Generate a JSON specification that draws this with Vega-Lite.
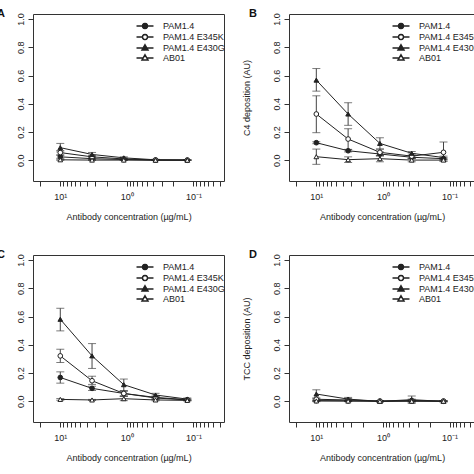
{
  "$schema": "https://vega.github.io/schema/vega-lite/v6.json",
  "padding": {"left": -4, "top": 7, "right": 0, "bottom": 0},
  "datasets": {
    "d": [
      {"panel": "A", "s": "PAM1.4", "x": 10, "y": 0.025, "lo": 0.015, "hi": 0.035},
      {"panel": "A", "s": "PAM1.4", "x": 3.333, "y": 0.012, "lo": 0.005, "hi": 0.02},
      {"panel": "A", "s": "PAM1.4", "x": 1.111, "y": 0.006, "lo": 0.002, "hi": 0.01},
      {"panel": "A", "s": "PAM1.4", "x": 0.3704, "y": 0.002, "lo": 0, "hi": 0.004},
      {"panel": "A", "s": "PAM1.4", "x": 0.1235, "y": 0.001, "lo": 0, "hi": 0.003},
      {"panel": "A", "s": "PAM1.4 E345K", "x": 10, "y": 0.055, "lo": 0.04, "hi": 0.07},
      {"panel": "A", "s": "PAM1.4 E345K", "x": 3.333, "y": 0.025, "lo": 0.015, "hi": 0.035},
      {"panel": "A", "s": "PAM1.4 E345K", "x": 1.111, "y": 0.01, "lo": 0.005, "hi": 0.015},
      {"panel": "A", "s": "PAM1.4 E345K", "x": 0.3704, "y": 0.003, "lo": 0, "hi": 0.006},
      {"panel": "A", "s": "PAM1.4 E345K", "x": 0.1235, "y": 0.002, "lo": 0, "hi": 0.004},
      {"panel": "A", "s": "PAM1.4 E430G", "x": 10, "y": 0.09, "lo": 0.06, "hi": 0.12},
      {"panel": "A", "s": "PAM1.4 E430G", "x": 3.333, "y": 0.042, "lo": 0.028, "hi": 0.056},
      {"panel": "A", "s": "PAM1.4 E430G", "x": 1.111, "y": 0.018, "lo": 0.01, "hi": 0.025},
      {"panel": "A", "s": "PAM1.4 E430G", "x": 0.3704, "y": 0.004, "lo": 0, "hi": 0.008},
      {"panel": "A", "s": "PAM1.4 E430G", "x": 0.1235, "y": 0.003, "lo": 0, "hi": 0.006},
      {"panel": "A", "s": "AB01", "x": 10, "y": 0.004, "lo": 0, "hi": 0.008},
      {"panel": "A", "s": "AB01", "x": 3.333, "y": 0.002, "lo": 0, "hi": 0.004},
      {"panel": "A", "s": "AB01", "x": 1.111, "y": 0.002, "lo": 0, "hi": 0.004},
      {"panel": "A", "s": "AB01", "x": 0.3704, "y": 0.001, "lo": 0, "hi": 0.003},
      {"panel": "A", "s": "AB01", "x": 0.1235, "y": 0.001, "lo": 0, "hi": 0.002},

      {"panel": "B", "s": "PAM1.4", "x": 10, "y": 0.125, "lo": 0.118, "hi": 0.132},
      {"panel": "B", "s": "PAM1.4", "x": 3.333, "y": 0.068, "lo": 0.06, "hi": 0.076},
      {"panel": "B", "s": "PAM1.4", "x": 1.111, "y": 0.045, "lo": 0.03, "hi": 0.06},
      {"panel": "B", "s": "PAM1.4", "x": 0.3704, "y": 0.022, "lo": 0.012, "hi": 0.032},
      {"panel": "B", "s": "PAM1.4", "x": 0.1235, "y": 0.012, "lo": 0.005, "hi": 0.02},
      {"panel": "B", "s": "PAM1.4 E345K", "x": 10, "y": 0.328, "lo": 0.196, "hi": 0.457},
      {"panel": "B", "s": "PAM1.4 E345K", "x": 3.333, "y": 0.151, "lo": 0.078, "hi": 0.224},
      {"panel": "B", "s": "PAM1.4 E345K", "x": 1.111, "y": 0.057, "lo": 0.035, "hi": 0.08},
      {"panel": "B", "s": "PAM1.4 E345K", "x": 0.3704, "y": 0.03, "lo": 0.015, "hi": 0.045},
      {"panel": "B", "s": "PAM1.4 E345K", "x": 0.1235, "y": 0.057, "lo": -0.005, "hi": 0.13},
      {"panel": "B", "s": "PAM1.4 E430G", "x": 10, "y": 0.568, "lo": 0.49, "hi": 0.65},
      {"panel": "B", "s": "PAM1.4 E430G", "x": 3.333, "y": 0.328, "lo": 0.248, "hi": 0.408},
      {"panel": "B", "s": "PAM1.4 E430G", "x": 1.111, "y": 0.12, "lo": 0.08, "hi": 0.16},
      {"panel": "B", "s": "PAM1.4 E430G", "x": 0.3704, "y": 0.05, "lo": 0.035, "hi": 0.063},
      {"panel": "B", "s": "PAM1.4 E430G", "x": 0.1235, "y": 0.02, "lo": 0.01, "hi": 0.03},
      {"panel": "B", "s": "AB01", "x": 10, "y": 0.026, "lo": -0.028, "hi": 0.08},
      {"panel": "B", "s": "AB01", "x": 3.333, "y": 0.005, "lo": -0.015, "hi": 0.025},
      {"panel": "B", "s": "AB01", "x": 1.111, "y": 0.012, "lo": -0.01, "hi": 0.035},
      {"panel": "B", "s": "AB01", "x": 0.3704, "y": 0.002, "lo": -0.01, "hi": 0.014},
      {"panel": "B", "s": "AB01", "x": 0.1235, "y": 0.002, "lo": -0.006, "hi": 0.01},

      {"panel": "C", "s": "PAM1.4", "x": 10, "y": 0.169, "lo": 0.129, "hi": 0.209},
      {"panel": "C", "s": "PAM1.4", "x": 3.333, "y": 0.092, "lo": 0.077, "hi": 0.107},
      {"panel": "C", "s": "PAM1.4", "x": 1.111, "y": 0.056, "lo": 0.04, "hi": 0.072},
      {"panel": "C", "s": "PAM1.4", "x": 0.3704, "y": 0.024, "lo": 0.016, "hi": 0.032},
      {"panel": "C", "s": "PAM1.4", "x": 0.1235, "y": 0.01, "lo": 0.005, "hi": 0.015},
      {"panel": "C", "s": "PAM1.4 E345K", "x": 10, "y": 0.322, "lo": 0.275, "hi": 0.369},
      {"panel": "C", "s": "PAM1.4 E345K", "x": 3.333, "y": 0.146, "lo": 0.12, "hi": 0.178},
      {"panel": "C", "s": "PAM1.4 E345K", "x": 1.111, "y": 0.056, "lo": 0.035, "hi": 0.075},
      {"panel": "C", "s": "PAM1.4 E345K", "x": 0.3704, "y": 0.028, "lo": 0.018, "hi": 0.038},
      {"panel": "C", "s": "PAM1.4 E345K", "x": 0.1235, "y": 0.012, "lo": 0.006, "hi": 0.018},
      {"panel": "C", "s": "PAM1.4 E430G", "x": 10, "y": 0.581, "lo": 0.499, "hi": 0.659},
      {"panel": "C", "s": "PAM1.4 E430G", "x": 3.333, "y": 0.322, "lo": 0.233, "hi": 0.409},
      {"panel": "C", "s": "PAM1.4 E430G", "x": 1.111, "y": 0.118, "lo": 0.075, "hi": 0.158},
      {"panel": "C", "s": "PAM1.4 E430G", "x": 0.3704, "y": 0.045, "lo": 0.033, "hi": 0.057},
      {"panel": "C", "s": "PAM1.4 E430G", "x": 0.1235, "y": 0.016, "lo": 0.008, "hi": 0.024},
      {"panel": "C", "s": "AB01", "x": 10, "y": 0.014, "lo": 0.008, "hi": 0.02},
      {"panel": "C", "s": "AB01", "x": 3.333, "y": 0.01, "lo": 0.006, "hi": 0.014},
      {"panel": "C", "s": "AB01", "x": 1.111, "y": 0.019, "lo": 0.005, "hi": 0.035},
      {"panel": "C", "s": "AB01", "x": 0.3704, "y": 0.01, "lo": 0.004, "hi": 0.016},
      {"panel": "C", "s": "AB01", "x": 0.1235, "y": 0.007, "lo": 0.003, "hi": 0.011},

      {"panel": "D", "s": "PAM1.4", "x": 10, "y": 0.005, "lo": 0, "hi": 0.01},
      {"panel": "D", "s": "PAM1.4", "x": 3.333, "y": 0.004, "lo": 0, "hi": 0.008},
      {"panel": "D", "s": "PAM1.4", "x": 1.111, "y": 0.001, "lo": -0.002, "hi": 0.004},
      {"panel": "D", "s": "PAM1.4", "x": 0.3704, "y": 0.003, "lo": -0.003, "hi": 0.009},
      {"panel": "D", "s": "PAM1.4", "x": 0.1235, "y": 0.001, "lo": -0.002, "hi": 0.004},
      {"panel": "D", "s": "PAM1.4 E345K", "x": 10, "y": 0.015, "lo": 0.005, "hi": 0.025},
      {"panel": "D", "s": "PAM1.4 E345K", "x": 3.333, "y": 0.01, "lo": 0, "hi": 0.02},
      {"panel": "D", "s": "PAM1.4 E345K", "x": 1.111, "y": 0.002, "lo": -0.002, "hi": 0.006},
      {"panel": "D", "s": "PAM1.4 E345K", "x": 0.3704, "y": 0.006, "lo": -0.004, "hi": 0.016},
      {"panel": "D", "s": "PAM1.4 E345K", "x": 0.1235, "y": 0.002, "lo": -0.002, "hi": 0.006},
      {"panel": "D", "s": "PAM1.4 E430G", "x": 10, "y": 0.052, "lo": 0.02, "hi": 0.082},
      {"panel": "D", "s": "PAM1.4 E430G", "x": 3.333, "y": 0.016, "lo": 0.004, "hi": 0.028},
      {"panel": "D", "s": "PAM1.4 E430G", "x": 1.111, "y": 0.0, "lo": -0.004, "hi": 0.004},
      {"panel": "D", "s": "PAM1.4 E430G", "x": 0.3704, "y": 0.012, "lo": -0.014, "hi": 0.038},
      {"panel": "D", "s": "PAM1.4 E430G", "x": 0.1235, "y": 0.0, "lo": -0.003, "hi": 0.003},
      {"panel": "D", "s": "AB01", "x": 10, "y": 0.003, "lo": -0.002, "hi": 0.008},
      {"panel": "D", "s": "AB01", "x": 3.333, "y": 0.002, "lo": -0.002, "hi": 0.006},
      {"panel": "D", "s": "AB01", "x": 1.111, "y": 0.001, "lo": -0.002, "hi": 0.004},
      {"panel": "D", "s": "AB01", "x": 0.3704, "y": 0.001, "lo": -0.003, "hi": 0.005},
      {"panel": "D", "s": "AB01", "x": 0.1235, "y": 0.001, "lo": -0.002, "hi": 0.004}
    ]
  },
  "data": {"name": "d"},
  "spacing": 26,
  "vconcat": [
    {
      "spacing": 15,
      "hconcat": [
        {
          "width": 191,
          "height": 167,
          "title": {"text": "A", "dx": -36},
          "transform": [{"filter": "datum.panel == 'A'"}],
          "encoding": {
            "x": {"field": "x", "type": "quantitative",
              "scale": {"type": "log", "domain": [0.0347, 25.7], "reverse": true, "nice": false, "zero": false},
              "axis": {"title": "Antibody concentration (µg/mL)", "values": [20, 10, 9, 8, 7, 6, 5, 4, 3, 2, 1, 0.9, 0.8, 0.7, 0.6, 0.5, 0.4, 0.3, 0.2, 0.1, 0.09, 0.08, 0.07, 0.06, 0.05, 0.04], "labelOverlap": false,
                "labelExpr": "datum.value == 10 ? '10¹' : datum.value == 1 ? '10⁰' : datum.value == 0.1 ? '10⁻¹' : ''"}}
          },
          "layer": [
            {"mark": {"type": "rule", "color": "#444"},
             "encoding": {"y": {"field": "lo", "type": "quantitative", "scale": {"domain": [-0.146, 1.036], "nice": false, "zero": false}, "axis": {"title": null, "values": [0, 0.2, 0.4, 0.6, 0.8, 1], "format": ".1f", "labelOverlap": false}}, "y2": {"field": "hi"}}},
            {"mark": {"type": "tick", "orient": "horizontal", "size": 8, "thickness": 1, "color": "#444"},
             "encoding": {"y": {"field": "lo", "type": "quantitative", "scale": {"domain": [-0.146, 1.036], "nice": false, "zero": false}, "axis": {"title": null, "values": [0, 0.2, 0.4, 0.6, 0.8, 1], "format": ".1f", "labelOverlap": false}}}},
            {"mark": {"type": "tick", "orient": "horizontal", "size": 8, "thickness": 1, "color": "#444"},
             "encoding": {"y": {"field": "hi", "type": "quantitative", "scale": {"domain": [-0.146, 1.036], "nice": false, "zero": false}, "axis": {"title": null, "values": [0, 0.2, 0.4, 0.6, 0.8, 1], "format": ".1f", "labelOverlap": false}}}},
            {"mark": {"type": "line", "color": "#222", "strokeWidth": 1},
             "encoding": {"y": {"field": "y", "type": "quantitative", "scale": {"domain": [-0.146, 1.036], "nice": false, "zero": false}, "axis": {"title": null, "values": [0, 0.2, 0.4, 0.6, 0.8, 1], "format": ".1f", "labelOverlap": false}}, "detail": {"field": "s"}}},
            {"mark": {"type": "point", "filled": true, "stroke": "#222", "strokeWidth": 1, "size": 22, "opacity": 1},
             "encoding": {"y": {"field": "y", "type": "quantitative", "scale": {"domain": [-0.146, 1.036], "nice": false, "zero": false}, "axis": {"title": null, "values": [0, 0.2, 0.4, 0.6, 0.8, 1], "format": ".1f", "labelOverlap": false}},
               "shape": {"field": "s", "scale": {"domain": ["PAM1.4", "PAM1.4 E345K", "PAM1.4 E430G", "AB01"], "range": ["circle", "circle", "triangle-up", "triangle-up"]}, "legend": null},
               "fill": {"field": "s", "scale": {"domain": ["PAM1.4", "PAM1.4 E345K", "PAM1.4 E430G", "AB01"], "range": ["#222", "#ffffff", "#222", "#ffffff"]}, "legend": null}}},
            {"transform": [{"filter": "false"}],
             "mark": {"type": "point", "filled": true, "stroke": "#222", "strokeWidth": 1, "size": 72, "opacity": 1},
             "encoding": {
               "shape": {"field": "s", "scale": {"domain": ["PAM1.4", "PAM1.4 E345K", "PAM1.4 E430G", "AB01"], "range": ["M-2,0H-0.6M0.6,0H2M0.6,0L0.52,0.3L0.3,0.52L0,0.6L-0.3,0.52L-0.52,0.3L-0.6,0L-0.52,-0.3L-0.3,-0.52L0,-0.6L0.3,-0.52L0.52,-0.3Z", "M-2,0H-0.6M0.6,0H2M0.6,0L0.52,0.3L0.3,0.52L0,0.6L-0.3,0.52L-0.52,0.3L-0.6,0L-0.52,-0.3L-0.3,-0.52L0,-0.6L0.3,-0.52L0.52,-0.3Z", "M-2,0H-0.45M0.45,0H2M0,-0.75L0.7,0.45L-0.7,0.45Z", "M-2,0H-0.45M0.45,0H2M0,-0.75L0.7,0.45L-0.7,0.45Z"]},
                 "legend": {"encode": {"symbols": {"stroke": {"value": "#222"}, "strokeWidth": {"value": 1}}}}},
               "fill": {"field": "s", "scale": {"domain": ["PAM1.4", "PAM1.4 E345K", "PAM1.4 E430G", "AB01"], "range": ["#222", "#ffffff", "#222", "#ffffff"]},
                 "legend": {"encode": {"symbols": {"stroke": {"value": "#222"}, "strokeWidth": {"value": 1}}}}}}}
          ],
          "resolve": {"scale": {"shape": "independent", "fill": "independent"}}
        },
        {
          "width": 186,
          "height": 167,
          "title": {"text": "B", "dx": -40},
          "transform": [{"filter": "datum.panel == 'B'"}],
          "encoding": {
            "x": {"field": "x", "type": "quantitative",
              "scale": {"type": "log", "domain": [0.0416, 25.7], "reverse": true, "nice": false, "zero": false},
              "axis": {"title": "Antibody concentration (µg/mL)", "values": [20, 10, 9, 8, 7, 6, 5, 4, 3, 2, 1, 0.9, 0.8, 0.7, 0.6, 0.5, 0.4, 0.3, 0.2, 0.1, 0.09, 0.08, 0.07, 0.06, 0.05], "labelOverlap": false,
                "labelExpr": "datum.value == 10 ? '10¹' : datum.value == 1 ? '10⁰' : datum.value == 0.1 ? '10⁻¹' : ''"}}
          },
          "layer": [
            {"mark": {"type": "rule", "color": "#444"},
             "encoding": {"y": {"field": "lo", "type": "quantitative", "scale": {"domain": [-0.146, 1.036], "nice": false, "zero": false}, "axis": {"title": "C4 deposition (AU)", "values": [0, 0.2, 0.4, 0.6, 0.8, 1], "format": ".1f", "labelOverlap": false}}, "y2": {"field": "hi"}}},
            {"mark": {"type": "tick", "orient": "horizontal", "size": 8, "thickness": 1, "color": "#444"},
             "encoding": {"y": {"field": "lo", "type": "quantitative", "scale": {"domain": [-0.146, 1.036], "nice": false, "zero": false}, "axis": {"title": "C4 deposition (AU)", "values": [0, 0.2, 0.4, 0.6, 0.8, 1], "format": ".1f", "labelOverlap": false}}}},
            {"mark": {"type": "tick", "orient": "horizontal", "size": 8, "thickness": 1, "color": "#444"},
             "encoding": {"y": {"field": "hi", "type": "quantitative", "scale": {"domain": [-0.146, 1.036], "nice": false, "zero": false}, "axis": {"title": "C4 deposition (AU)", "values": [0, 0.2, 0.4, 0.6, 0.8, 1], "format": ".1f", "labelOverlap": false}}}},
            {"mark": {"type": "line", "color": "#222", "strokeWidth": 1},
             "encoding": {"y": {"field": "y", "type": "quantitative", "scale": {"domain": [-0.146, 1.036], "nice": false, "zero": false}, "axis": {"title": "C4 deposition (AU)", "values": [0, 0.2, 0.4, 0.6, 0.8, 1], "format": ".1f", "labelOverlap": false}}, "detail": {"field": "s"}}},
            {"mark": {"type": "point", "filled": true, "stroke": "#222", "strokeWidth": 1, "size": 22, "opacity": 1},
             "encoding": {"y": {"field": "y", "type": "quantitative", "scale": {"domain": [-0.146, 1.036], "nice": false, "zero": false}, "axis": {"title": "C4 deposition (AU)", "values": [0, 0.2, 0.4, 0.6, 0.8, 1], "format": ".1f", "labelOverlap": false}},
               "shape": {"field": "s", "scale": {"domain": ["PAM1.4", "PAM1.4 E345K", "PAM1.4 E430G", "AB01"], "range": ["circle", "circle", "triangle-up", "triangle-up"]}, "legend": null},
               "fill": {"field": "s", "scale": {"domain": ["PAM1.4", "PAM1.4 E345K", "PAM1.4 E430G", "AB01"], "range": ["#222", "#ffffff", "#222", "#ffffff"]}, "legend": null}}},
            {"transform": [{"filter": "false"}],
             "mark": {"type": "point", "filled": true, "stroke": "#222", "strokeWidth": 1, "size": 72, "opacity": 1},
             "encoding": {
               "shape": {"field": "s", "scale": {"domain": ["PAM1.4", "PAM1.4 E345K", "PAM1.4 E430G", "AB01"], "range": ["M-2,0H-0.6M0.6,0H2M0.6,0L0.52,0.3L0.3,0.52L0,0.6L-0.3,0.52L-0.52,0.3L-0.6,0L-0.52,-0.3L-0.3,-0.52L0,-0.6L0.3,-0.52L0.52,-0.3Z", "M-2,0H-0.6M0.6,0H2M0.6,0L0.52,0.3L0.3,0.52L0,0.6L-0.3,0.52L-0.52,0.3L-0.6,0L-0.52,-0.3L-0.3,-0.52L0,-0.6L0.3,-0.52L0.52,-0.3Z", "M-2,0H-0.45M0.45,0H2M0,-0.75L0.7,0.45L-0.7,0.45Z", "M-2,0H-0.45M0.45,0H2M0,-0.75L0.7,0.45L-0.7,0.45Z"]},
                 "legend": {"encode": {"symbols": {"stroke": {"value": "#222"}, "strokeWidth": {"value": 1}}}}},
               "fill": {"field": "s", "scale": {"domain": ["PAM1.4", "PAM1.4 E345K", "PAM1.4 E430G", "AB01"], "range": ["#222", "#ffffff", "#222", "#ffffff"]},
                 "legend": {"encode": {"symbols": {"stroke": {"value": "#222"}, "strokeWidth": {"value": 1}}}}}}}
          ],
          "resolve": {"scale": {"shape": "independent", "fill": "independent"}}
        }
      ]
    },
    {
      "spacing": 15,
      "hconcat": [
        {
          "width": 191,
          "height": 167,
          "title": {"text": "C", "dx": -36},
          "transform": [{"filter": "datum.panel == 'C'"}],
          "encoding": {
            "x": {"field": "x", "type": "quantitative",
              "scale": {"type": "log", "domain": [0.0347, 25.7], "reverse": true, "nice": false, "zero": false},
              "axis": {"title": "Antibody concentration (µg/mL)", "values": [20, 10, 9, 8, 7, 6, 5, 4, 3, 2, 1, 0.9, 0.8, 0.7, 0.6, 0.5, 0.4, 0.3, 0.2, 0.1, 0.09, 0.08, 0.07, 0.06, 0.05, 0.04], "labelOverlap": false,
                "labelExpr": "datum.value == 10 ? '10¹' : datum.value == 1 ? '10⁰' : datum.value == 0.1 ? '10⁻¹' : ''"}}
          },
          "layer": [
            {"mark": {"type": "rule", "color": "#444"},
             "encoding": {"y": {"field": "lo", "type": "quantitative", "scale": {"domain": [-0.146, 1.036], "nice": false, "zero": false}, "axis": {"title": null, "values": [0, 0.2, 0.4, 0.6, 0.8, 1], "format": ".1f", "labelOverlap": false}}, "y2": {"field": "hi"}}},
            {"mark": {"type": "tick", "orient": "horizontal", "size": 8, "thickness": 1, "color": "#444"},
             "encoding": {"y": {"field": "lo", "type": "quantitative", "scale": {"domain": [-0.146, 1.036], "nice": false, "zero": false}, "axis": {"title": null, "values": [0, 0.2, 0.4, 0.6, 0.8, 1], "format": ".1f", "labelOverlap": false}}}},
            {"mark": {"type": "tick", "orient": "horizontal", "size": 8, "thickness": 1, "color": "#444"},
             "encoding": {"y": {"field": "hi", "type": "quantitative", "scale": {"domain": [-0.146, 1.036], "nice": false, "zero": false}, "axis": {"title": null, "values": [0, 0.2, 0.4, 0.6, 0.8, 1], "format": ".1f", "labelOverlap": false}}}},
            {"mark": {"type": "line", "color": "#222", "strokeWidth": 1},
             "encoding": {"y": {"field": "y", "type": "quantitative", "scale": {"domain": [-0.146, 1.036], "nice": false, "zero": false}, "axis": {"title": null, "values": [0, 0.2, 0.4, 0.6, 0.8, 1], "format": ".1f", "labelOverlap": false}}, "detail": {"field": "s"}}},
            {"mark": {"type": "point", "filled": true, "stroke": "#222", "strokeWidth": 1, "size": 22, "opacity": 1},
             "encoding": {"y": {"field": "y", "type": "quantitative", "scale": {"domain": [-0.146, 1.036], "nice": false, "zero": false}, "axis": {"title": null, "values": [0, 0.2, 0.4, 0.6, 0.8, 1], "format": ".1f", "labelOverlap": false}},
               "shape": {"field": "s", "scale": {"domain": ["PAM1.4", "PAM1.4 E345K", "PAM1.4 E430G", "AB01"], "range": ["circle", "circle", "triangle-up", "triangle-up"]}, "legend": null},
               "fill": {"field": "s", "scale": {"domain": ["PAM1.4", "PAM1.4 E345K", "PAM1.4 E430G", "AB01"], "range": ["#222", "#ffffff", "#222", "#ffffff"]}, "legend": null}}},
            {"transform": [{"filter": "false"}],
             "mark": {"type": "point", "filled": true, "stroke": "#222", "strokeWidth": 1, "size": 72, "opacity": 1},
             "encoding": {
               "shape": {"field": "s", "scale": {"domain": ["PAM1.4", "PAM1.4 E345K", "PAM1.4 E430G", "AB01"], "range": ["M-2,0H-0.6M0.6,0H2M0.6,0L0.52,0.3L0.3,0.52L0,0.6L-0.3,0.52L-0.52,0.3L-0.6,0L-0.52,-0.3L-0.3,-0.52L0,-0.6L0.3,-0.52L0.52,-0.3Z", "M-2,0H-0.6M0.6,0H2M0.6,0L0.52,0.3L0.3,0.52L0,0.6L-0.3,0.52L-0.52,0.3L-0.6,0L-0.52,-0.3L-0.3,-0.52L0,-0.6L0.3,-0.52L0.52,-0.3Z", "M-2,0H-0.45M0.45,0H2M0,-0.75L0.7,0.45L-0.7,0.45Z", "M-2,0H-0.45M0.45,0H2M0,-0.75L0.7,0.45L-0.7,0.45Z"]},
                 "legend": {"encode": {"symbols": {"stroke": {"value": "#222"}, "strokeWidth": {"value": 1}}}}},
               "fill": {"field": "s", "scale": {"domain": ["PAM1.4", "PAM1.4 E345K", "PAM1.4 E430G", "AB01"], "range": ["#222", "#ffffff", "#222", "#ffffff"]},
                 "legend": {"encode": {"symbols": {"stroke": {"value": "#222"}, "strokeWidth": {"value": 1}}}}}}}
          ],
          "resolve": {"scale": {"shape": "independent", "fill": "independent"}}
        },
        {
          "width": 186,
          "height": 167,
          "title": {"text": "D", "dx": -40},
          "transform": [{"filter": "datum.panel == 'D'"}],
          "encoding": {
            "x": {"field": "x", "type": "quantitative",
              "scale": {"type": "log", "domain": [0.0416, 25.7], "reverse": true, "nice": false, "zero": false},
              "axis": {"title": "Antibody concentration (µg/mL)", "values": [20, 10, 9, 8, 7, 6, 5, 4, 3, 2, 1, 0.9, 0.8, 0.7, 0.6, 0.5, 0.4, 0.3, 0.2, 0.1, 0.09, 0.08, 0.07, 0.06, 0.05], "labelOverlap": false,
                "labelExpr": "datum.value == 10 ? '10¹' : datum.value == 1 ? '10⁰' : datum.value == 0.1 ? '10⁻¹' : ''"}}
          },
          "layer": [
            {"mark": {"type": "rule", "color": "#444"},
             "encoding": {"y": {"field": "lo", "type": "quantitative", "scale": {"domain": [-0.146, 1.036], "nice": false, "zero": false}, "axis": {"title": "TCC deposition (AU)", "values": [0, 0.2, 0.4, 0.6, 0.8, 1], "format": ".1f", "labelOverlap": false}}, "y2": {"field": "hi"}}},
            {"mark": {"type": "tick", "orient": "horizontal", "size": 8, "thickness": 1, "color": "#444"},
             "encoding": {"y": {"field": "lo", "type": "quantitative", "scale": {"domain": [-0.146, 1.036], "nice": false, "zero": false}, "axis": {"title": "TCC deposition (AU)", "values": [0, 0.2, 0.4, 0.6, 0.8, 1], "format": ".1f", "labelOverlap": false}}}},
            {"mark": {"type": "tick", "orient": "horizontal", "size": 8, "thickness": 1, "color": "#444"},
             "encoding": {"y": {"field": "hi", "type": "quantitative", "scale": {"domain": [-0.146, 1.036], "nice": false, "zero": false}, "axis": {"title": "TCC deposition (AU)", "values": [0, 0.2, 0.4, 0.6, 0.8, 1], "format": ".1f", "labelOverlap": false}}}},
            {"mark": {"type": "line", "color": "#222", "strokeWidth": 1},
             "encoding": {"y": {"field": "y", "type": "quantitative", "scale": {"domain": [-0.146, 1.036], "nice": false, "zero": false}, "axis": {"title": "TCC deposition (AU)", "values": [0, 0.2, 0.4, 0.6, 0.8, 1], "format": ".1f", "labelOverlap": false}}, "detail": {"field": "s"}}},
            {"mark": {"type": "point", "filled": true, "stroke": "#222", "strokeWidth": 1, "size": 22, "opacity": 1},
             "encoding": {"y": {"field": "y", "type": "quantitative", "scale": {"domain": [-0.146, 1.036], "nice": false, "zero": false}, "axis": {"title": "TCC deposition (AU)", "values": [0, 0.2, 0.4, 0.6, 0.8, 1], "format": ".1f", "labelOverlap": false}},
               "shape": {"field": "s", "scale": {"domain": ["PAM1.4", "PAM1.4 E345K", "PAM1.4 E430G", "AB01"], "range": ["circle", "circle", "triangle-up", "triangle-up"]}, "legend": null},
               "fill": {"field": "s", "scale": {"domain": ["PAM1.4", "PAM1.4 E345K", "PAM1.4 E430G", "AB01"], "range": ["#222", "#ffffff", "#222", "#ffffff"]}, "legend": null}}},
            {"transform": [{"filter": "false"}],
             "mark": {"type": "point", "filled": true, "stroke": "#222", "strokeWidth": 1, "size": 72, "opacity": 1},
             "encoding": {
               "shape": {"field": "s", "scale": {"domain": ["PAM1.4", "PAM1.4 E345K", "PAM1.4 E430G", "AB01"], "range": ["M-2,0H-0.6M0.6,0H2M0.6,0L0.52,0.3L0.3,0.52L0,0.6L-0.3,0.52L-0.52,0.3L-0.6,0L-0.52,-0.3L-0.3,-0.52L0,-0.6L0.3,-0.52L0.52,-0.3Z", "M-2,0H-0.6M0.6,0H2M0.6,0L0.52,0.3L0.3,0.52L0,0.6L-0.3,0.52L-0.52,0.3L-0.6,0L-0.52,-0.3L-0.3,-0.52L0,-0.6L0.3,-0.52L0.52,-0.3Z", "M-2,0H-0.45M0.45,0H2M0,-0.75L0.7,0.45L-0.7,0.45Z", "M-2,0H-0.45M0.45,0H2M0,-0.75L0.7,0.45L-0.7,0.45Z"]},
                 "legend": {"encode": {"symbols": {"stroke": {"value": "#222"}, "strokeWidth": {"value": 1}}}}},
               "fill": {"field": "s", "scale": {"domain": ["PAM1.4", "PAM1.4 E345K", "PAM1.4 E430G", "AB01"], "range": ["#222", "#ffffff", "#222", "#ffffff"]},
                 "legend": {"encode": {"symbols": {"stroke": {"value": "#222"}, "strokeWidth": {"value": 1}}}}}}}
          ],
          "resolve": {"scale": {"shape": "independent", "fill": "independent"}}
        }
      ]
    }
  ],
  "config": {
    "font": "Liberation Sans",
    "view": {"stroke": "#333", "strokeWidth": 1},
    "axis": {"grid": false, "domain": false, "tickColor": "#333", "labelColor": "#222", "labelFontSize": 9, "labelOverlap": false, "titleFontSize": 9, "titleFontWeight": "normal", "titleColor": "#222"},
    "axisX": {"tickSize": 5, "labelPadding": 6, "titlePadding": 11},
    "axisY": {"labelAngle": -90, "labelAlign": "center", "labelBaseline": "middle", "tickSize": 5, "labelPadding": 8, "titlePadding": 21},
    "legend": {"orient": "none", "legendX": 107, "legendY": 7, "title": null, "labelFontSize": 9, "labelColor": "#222", "labelOffset": 13, "rowPadding": -3, "symbolSize": 72, "padding": 0},
    "title": {"anchor": "start", "frame": "group", "fontSize": 11, "fontWeight": "bold", "color": "#111", "offset": -6}
  }
}
